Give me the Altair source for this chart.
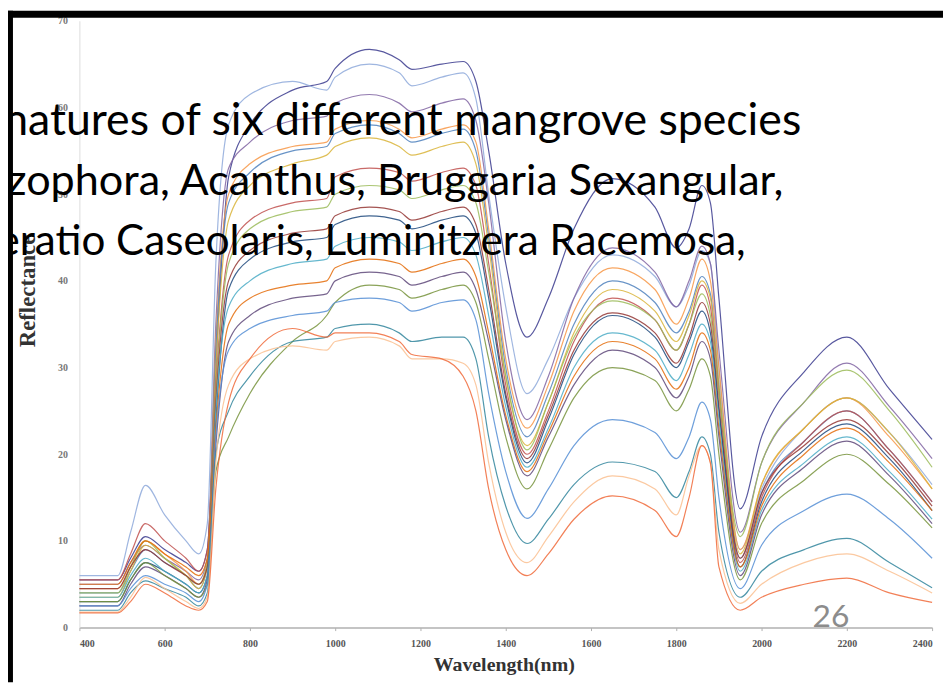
import altair as alt
import pandas as pd

# Wavelengths (nm) at which the spectra are sampled
WL = [400, 490, 520, 555, 600, 650, 680, 700, 720, 750, 800, 900, 980, 1000, 1080, 1150, 1180,
      1250, 1300, 1330, 1360, 1400, 1450, 1500, 1560, 1650, 1750, 1800, 1830, 1860, 1880, 1900,
      1950, 2000, 2100, 2200, 2300, 2400]

S_A = [5.5, 5.5, 8.0, 10.5, 9.0, 7.5, 6.5, 9.0, 30.0, 52.0, 58.0, 62.0, 63.0, 64.5, 66.7, 65.5, 64.4, 65.0, 65.3, 63.0, 55.0, 42.0, 33.5, 38.0, 46.0, 51.8, 48.5, 43.8, 46.0, 51.0, 49.0, 38.0, 13.7, 22.0, 29.5, 33.5, 27.5, 21.7]
S_B = [6.0, 6.0, 11.0, 16.4, 13.0, 10.0, 8.5, 12.0, 42.0, 58.0, 61.5, 63.0, 62.0, 63.5, 65.0, 64.0, 62.5, 63.5, 64.0, 61.0, 50.0, 37.0, 27.0, 31.0, 38.0, 43.0, 40.5, 37.0, 39.5, 43.5, 42.0, 30.0, 9.0, 16.0, 23.0, 26.5, 22.5, 16.5]
S_C = [5.0, 5.0, 7.5, 9.5, 8.0, 6.5, 5.5, 8.0, 35.0, 53.0, 56.0, 58.5, 59.0, 60.5, 61.5, 60.5, 59.5, 60.5, 61.0, 58.5, 49.0, 33.0, 24.0, 29.0, 38.0, 43.8, 41.0, 37.0, 40.0, 44.0, 42.0, 32.0, 11.0, 19.0, 26.0, 30.5, 25.5, 19.5]
S_D = [4.5, 4.5, 7.0, 10.0, 8.5, 6.5, 5.0, 7.5, 33.0, 50.0, 53.5, 55.5, 56.0, 57.5, 58.5, 57.5, 56.5, 57.5, 58.0, 56.0, 46.0, 31.0, 23.0, 28.0, 36.5, 41.5, 39.0, 35.0, 38.0, 42.5, 40.0, 30.0, 9.0, 16.5, 23.0, 26.5, 22.0, 16.0]
S_E = [4.0, 4.0, 6.5, 9.0, 7.5, 6.0, 4.5, 7.0, 32.0, 49.0, 52.5, 55.0, 55.5, 57.0, 58.0, 57.0, 56.0, 57.0, 57.5, 55.0, 45.0, 30.0, 22.0, 27.0, 35.0, 40.0, 37.5, 34.0, 36.5, 40.5, 38.5, 28.0, 8.0, 15.5, 21.5, 25.0, 20.5, 14.5]
S_F = [3.5, 3.5, 6.5, 9.5, 8.0, 6.0, 4.5, 7.0, 30.0, 47.0, 51.0, 53.5, 54.5, 55.5, 56.5, 55.5, 54.5, 55.5, 56.0, 53.5, 44.0, 29.0, 21.0, 26.0, 34.0, 39.0, 36.5, 33.0, 36.0, 40.0, 38.0, 28.0, 8.5, 16.5, 23.0, 26.5, 22.5, 16.0]
S_G = [5.5, 5.5, 8.5, 12.0, 10.0, 8.0, 6.5, 9.0, 28.0, 43.0, 47.0, 49.0, 49.5, 52.0, 53.0, 52.5, 51.5, 52.5, 53.0, 51.0, 42.0, 28.0, 20.0, 25.0, 33.0, 38.0, 35.5, 32.0, 35.0, 39.5, 37.0, 27.0, 7.5, 15.0, 21.5, 25.0, 20.5, 14.5]
S_H = [4.0, 4.0, 7.0, 10.0, 8.0, 6.0, 5.0, 7.5, 27.0, 42.0, 46.0, 48.0, 48.5, 50.0, 51.0, 50.5, 49.5, 50.5, 51.0, 49.0, 41.0, 29.0, 20.5, 26.0, 33.5, 37.7, 35.5, 32.0, 35.0, 38.5, 36.0, 27.0, 10.5, 19.0, 26.0, 29.7, 25.0, 18.5]
S_I = [4.5, 4.5, 7.0, 9.0, 7.5, 6.0, 5.0, 7.0, 26.0, 40.0, 43.5, 45.5, 46.0, 47.5, 48.5, 48.0, 47.0, 48.0, 48.5, 46.5, 39.0, 27.0, 19.5, 24.5, 32.0, 36.3, 34.0, 30.5, 33.5, 37.5, 35.0, 25.5, 8.0, 15.5, 21.0, 24.0, 20.0, 14.0]
S_J = [3.0, 3.0, 5.5, 7.5, 6.5, 5.0, 4.0, 6.0, 24.0, 39.0, 42.5, 44.5, 45.0, 46.5, 47.5, 47.0, 46.0, 47.0, 47.5, 45.5, 38.0, 26.5, 19.0, 24.0, 31.5, 36.0, 33.5, 30.0, 33.0, 36.5, 34.0, 25.0, 7.0, 14.5, 20.5, 23.5, 19.5, 13.5]
S_K = [3.5, 3.5, 6.0, 8.0, 6.5, 5.0, 4.0, 6.0, 25.0, 37.0, 40.0, 42.0, 42.5, 44.0, 45.0, 44.5, 43.5, 44.5, 45.0, 43.0, 36.0, 25.5, 18.5, 23.0, 30.0, 34.0, 32.0, 28.5, 31.5, 35.0, 33.0, 24.0, 6.5, 13.5, 19.0, 22.0, 18.0, 12.5]
S_L = [5.0, 5.0, 7.5, 10.0, 8.5, 7.0, 6.0, 8.0, 23.0, 35.0, 38.0, 39.5, 40.0, 41.5, 42.5, 42.0, 41.0, 42.0, 42.5, 40.5, 34.0, 24.5, 18.0, 22.5, 29.0, 33.0, 31.0, 27.5, 30.0, 34.0, 32.0, 23.0, 7.0, 14.0, 20.0, 23.0, 19.0, 13.5]
S_M = [2.5, 2.5, 5.0, 7.0, 6.0, 4.5, 3.5, 5.5, 21.0, 33.0, 36.0, 38.0, 38.5, 40.0, 41.0, 40.5, 39.5, 40.5, 41.0, 39.0, 33.0, 24.0, 17.5, 22.0, 28.0, 32.0, 30.0, 26.5, 29.0, 33.0, 31.0, 22.0, 6.0, 13.0, 18.5, 21.5, 17.5, 12.0]
S_N = [3.0, 3.0, 5.5, 7.5, 6.0, 4.5, 3.5, 5.0, 18.0, 22.0, 27.0, 33.0, 36.0, 37.5, 39.5, 39.0, 38.0, 39.0, 39.5, 37.5, 31.0, 22.0, 16.0, 20.5, 26.5, 30.0, 28.5, 25.0, 27.5, 31.0, 29.0, 20.0, 5.5, 12.0, 17.0, 20.0, 16.5, 11.5]
S_O = [2.5, 2.5, 4.5, 6.0, 5.0, 4.0, 3.0, 5.0, 22.0, 32.0, 34.5, 36.0, 36.5, 37.5, 38.0, 37.5, 36.5, 37.5, 37.8, 35.5, 27.0, 18.0, 12.6, 16.0, 21.0, 24.0, 22.5, 19.5, 22.0, 26.0, 24.0, 15.0, 4.5, 9.5, 13.5, 15.4, 12.5, 8.0]
S_P = [2.0, 2.0, 4.0, 5.4, 4.5, 3.5, 2.5, 4.0, 20.0, 25.0, 29.0, 33.0, 33.5, 34.5, 35.0, 34.0, 33.0, 33.5, 33.5, 31.0, 22.0, 14.0, 9.7, 12.5, 16.5, 19.1, 18.0, 15.0, 18.0, 22.0, 20.0, 11.0, 3.5, 6.5, 9.0, 10.3, 7.5, 4.6]
S_Q = [1.8, 1.8, 3.5, 5.8, 4.5, 3.0, 2.2, 3.5, 19.0, 28.0, 31.0, 32.5, 32.0, 33.0, 33.5, 32.5, 31.0, 31.0, 30.5, 28.0, 19.0, 11.0, 7.5, 10.5, 14.5, 17.5, 16.0, 13.0, 17.5, 21.0, 19.0, 9.0, 2.8, 5.0, 7.5, 8.5, 6.5, 4.0]
S_R = [1.7, 1.7, 3.0, 5.0, 4.0, 2.5, 2.0, 3.0, 16.0, 26.0, 31.0, 34.5, 33.5, 34.0, 34.0, 33.0, 31.5, 31.0, 29.0, 25.0, 16.0, 9.0, 6.0, 8.5, 12.5, 15.2, 13.5, 10.5, 15.0, 21.0, 19.0, 7.0, 2.0, 3.5, 5.0, 5.7, 4.0, 2.9]

SERIES = ["A", "B", "C", "D", "E", "F", "G", "H", "I", "J", "K", "L", "M", "N", "O", "P", "Q", "R"]
VALUES = [S_A, S_B, S_C, S_D, S_E, S_F, S_G, S_H, S_I, S_J, S_K, S_L, S_M, S_N, S_O, S_P, S_Q, S_R]
COLORS = ["#3b3b8e", "#8ea9db", "#8064a2", "#f79646", "#4f81bd", "#d9b43a", "#c0504d", "#9bbb59",
          "#943634", "#1f497d", "#4bacc6", "#e46c0a", "#5f497a", "#77933c", "#558ed5", "#31859c",
          "#fac090", "#f06a3a"]

X_TICKS = [400, 600, 800, 1000, 1200, 1400, 1600, 1800, 2000, 2200, 2400]
Y_TICKS = [0, 10, 20, 30, 40, 50, 60, 70]

rows = []
for name, vals in zip(SERIES, VALUES):
    for w, v in zip(WL, vals):
        rows.append({"series": name, "wl": w, "refl": v})
df = pd.DataFrame(rows)

lines = alt.Chart(df).mark_line(strokeWidth=1.2, opacity=0.85, interpolate="monotone").encode(
    x=alt.X("wl:Q", scale=alt.Scale(domain=[400, 2400], nice=False, zero=False),
            axis=alt.Axis(values=X_TICKS, format="d", title="Wavelength(nm)", grid=False,
                          domainColor="#b0b0b0", domainWidth=1.5, ticks=True, tickSize=3,
                          tickColor="#b0b0b0", labelFont="Liberation Serif", labelFontWeight="bold",
                          labelFontSize=10, labelColor="#555555", labelPadding=8,
                          titleFont="Liberation Serif", titleFontWeight="bold", titleFontSize=20,
                          titleColor="#333333", titleX=428, titleY=43, titleBaseline="alphabetic",
                          titleAlign="center")),
    y=alt.Y("refl:Q", scale=alt.Scale(domain=[0, 70], nice=False),
            axis=alt.Axis(values=Y_TICKS, title="Reflectance", grid=False,
                          domainColor="#dddddd", ticks=False, labelFont="Liberation Serif",
                          labelFontWeight="bold", labelFontSize=10, labelColor="#777777",
                          labelPadding=12, titleFont="Liberation Serif", titleFontWeight="bold",
                          titleFontSize=23, titleColor="#333333", titleAngle=270,
                          titleX=-45, titleY=272, titleAlign="center", titleBaseline="alphabetic")),
    color=alt.Color("series:N", scale=alt.Scale(domain=SERIES, range=COLORS), legend=None),
    detail="series:N",
)

one = alt.Data(values=[{}])
TEXT_LINES = ["natures of six different mangrove species",
              "zophora, Acanthus, Bruggaria Sexangular,",
              "eratio Caseolaris, Luminitzera Racemosa,"]
TEXT_SIZES = [45, 43.5, 42.5]
TEXT_RIGHT = [728, 710, 672]
TEXT_BASE = [115, 176, 236]

overlay = []
for txt, fs, xr, yb in zip(TEXT_LINES, TEXT_SIZES, TEXT_RIGHT, TEXT_BASE):
    overlay.append(alt.Chart(one).mark_text(text=txt, font="Lato", fontSize=fs, color="#000000",
                                            align="right", baseline="alphabetic").encode(
        x=alt.value(xr), y=alt.value(yb)))

page_num = alt.Chart(one).mark_text(text="26", font="Lato", fontSize=32, color="#8c8c8c",
                                    align="center", baseline="alphabetic").encode(
    x=alt.value(758), y=alt.value(611))

left_bar = alt.Chart(one).mark_rect(color="#000000").encode(
    x=alt.value(-72), x2=alt.value(-67), y=alt.value(-10), y2=alt.value(667))
top_bar = alt.Chart(one).mark_rect(color="#000000").encode(
    x=alt.value(-72), x2=alt.value(871), y=alt.value(-10), y2=alt.value(-3))

chart = alt.layer(lines, *overlay, page_num, left_bar, top_bar).properties(
    width=860, height=612,
    padding={"left": 72, "top": 10, "right": 11, "bottom": 55},
    autosize=alt.AutoSizeParams(type="none"),
    background="#ffffff",
).configure_view(stroke=None)

chart.save("out.html", embed_options={"renderer": "svg", "actions": False})
